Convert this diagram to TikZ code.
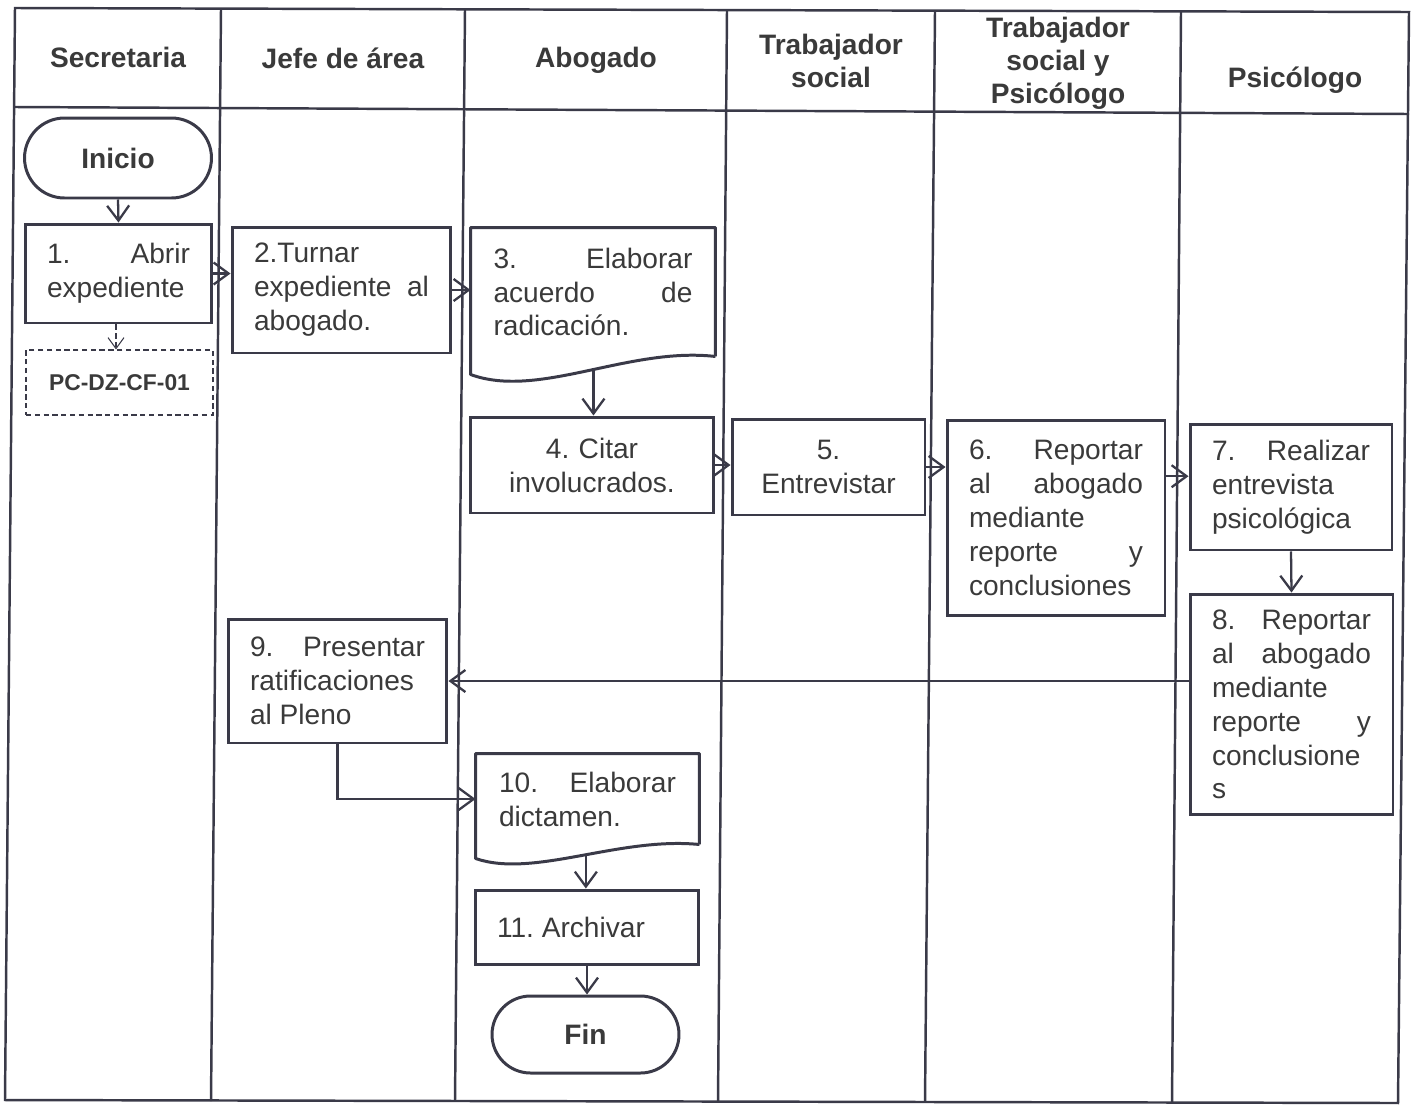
\documentclass[tikz,border=0pt]{standalone}
\usepackage{fontspec}
\setmainfont{Liberation Sans}
\usetikzlibrary{arrows.meta,calc}

\definecolor{ink}{HTML}{3A3A48}
\definecolor{txt}{HTML}{3A3A3A}

\begin{document}
\frenchspacing
\begin{tikzpicture}[x=0.02cm,y=-0.02cm,
  frame/.style={draw=ink, line width=1.4pt},
  box/.style={draw=ink, line width=1.7pt, inner sep=1pt, text=txt,
    font=\frenchspacing\fontsize{16}{19.3}\selectfont},
  jbox/.style={box, align=justify},
  cbox/.style={box, align=center},
  docbox/.style={box, draw=none, align=justify},
  term/.style={box, font=\bfseries\fontsize{16}{19}\selectfont},
  ref/.style={draw=ink, line width=0.6pt, dash pattern=on 3pt off 2pt,
    inner sep=1pt, text=txt, font=\bfseries\fontsize{13}{15}\selectfont},
  head/.style={text=txt, align=center, font=\bfseries\fontsize{16}{18.8}\selectfont},
  arr/.style={draw=ink, line width=1.3pt,
    -{Straight Barb[length=0.3cm,width=0.44cm,line width=1.3pt]}},
  darr/.style={draw=ink, line width=0.6pt, dash pattern=on 3pt off 2pt,
    -{Straight Barb[length=0.22cm,width=0.32cm,line width=0.6pt]}},
]
\useasboundingbox (0,0) rectangle (1416,1106);

% swimlane table
\draw[frame] (15,8) -- (1409,12) -- (1398,1103) -- (5,1100) -- cycle;
\draw[frame] (15,107) -- (1409,114);
\draw[frame] (221,9) -- (211,1101);
\draw[frame] (465,9) -- (455,1101);
\draw[frame] (727,10) -- (718,1102);
\draw[frame] (935,11) -- (925,1102);
\draw[frame] (1181,12) -- (1172,1103);

% lane headings
\node[head] (hsec) at (118,57) {Secretaria};
\node[head] (hjef) at (343,58) {Jefe de área};
\node[head] (habo) at (596,60) {Abogado};
\node[head] (hts)  at (831,61) {Trabajador\\social};
\node[head] (htsp) at (1058,63) {Trabajador\\social y\\Psicólogo};
\node[head] (hpsi) at (1295,80) {Psicólogo};

% terminals
\node[term, rounded corners=0.8cm, minimum width=3.74cm, minimum height=1.6cm]
  (ini) at (118,158) {Inicio};
\node[term, rounded corners=0.77cm, minimum width=3.74cm, minimum height=1.54cm]
  (fin) at (585.5,1034.5) {Fin};

% activities
\node[jbox, minimum width=3.74cm, minimum height=1.98cm, text width=2.86cm]
  (n1) at (118.5,273.5) {1.\hfill Abrir\\expediente};
\node[ref, minimum width=3.74cm, minimum height=1.3cm]
  (pc) at (119.5,382.5) {PC-DZ-CF-01};
\node[jbox, minimum width=4.38cm, minimum height=2.52cm, text width=3.5cm]
  (n2) at (341.5,290) {2.Turnar\\expediente\hfill al\\abogado.};
\node[docbox, minimum width=4.84cm, minimum height=2.52cm, text width=3.98cm]
  (n3) at (593,292) {3.\hfill Elaborar\\acuerdo\hfill de\\radicación.};
\node[cbox, minimum width=4.88cm, minimum height=1.92cm, text width=4.4cm]
  (n4) at (592,465) {4. Citar\\involucrados.};
\node[cbox, minimum width=3.86cm, minimum height=1.92cm, text width=3.4cm]
  (n5) at (828.5,467) {5.\\Entrevistar};
\node[jbox, minimum width=4.36cm, minimum height=3.92cm, text width=3.48cm]
  (n6) at (1056,518) {6.\hfill Reportar\\al\hfill abogado\\mediante\\reporte\hfill y\\conclusiones};
\node[jbox, minimum width=4.04cm, minimum height=2.52cm, text width=3.16cm]
  (n7) at (1291,487) {7.\hfill Realizar\\entrevista\\psicológica};
\node[jbox, minimum width=4.06cm, minimum height=4.42cm, text width=3.18cm]
  (n8) at (1291.5,704.5) {8.\hfill Reportar\\al\hfill abogado\\mediante\\reporte\hfill y\\conclusione\\s};
\node[jbox, minimum width=4.38cm, minimum height=2.48cm, text width=3.5cm]
  (n9) at (337.5,681) {9.\hfill Presentar\\ratificaciones\\al Pleno};
\node[docbox, minimum width=4.42cm, minimum height=1.76cm, text width=3.54cm]
  (n10) at (587.5,799) {10.\hfill Elaborar\\dictamen.};
\node[jbox, minimum width=4.48cm, minimum height=1.48cm, text width=3.6cm]
  (n11) at (587,927) {11. Archivar};

% document outlines with wavy lower edge
\draw[draw=ink, line width=1.7pt, line join=round]
  (n3.south east) -- (n3.north east) -- (n3.north west) -- ($(n3.south west)+(0,18)$)
  .. controls ($(n3.south west)+(68,43)$) and ($(n3.south west)+(158,-10)$) .. (n3.south east)
  coordinate[pos=0.53] (w3);
\draw[draw=ink, line width=1.7pt, line join=round]
  (n10.south east) -- (n10.north east) -- (n10.north west) -- ($(n10.south west)+(0,14)$)
  .. controls ($(n10.south west)+(58,34)$) and ($(n10.south west)+(143,-8)$) .. (n10.south east)
  coordinate[pos=0.53] (w10);

% flow
\draw[arr] (ini.south) -- (n1.north);
\draw[darr] ([xshift=-0.05cm]n1.south) -- ([xshift=-0.05cm]n1.south |- pc.north);
\draw[arr] (n1.east) -- (n1.east -| n2.west);
\draw[arr] (n2.east) -- (n2.east -| n3.west);
\draw[arr] (w3) -- (w3 |- n4.north);
\draw[arr] (n4.east) -- (n4.east -| n5.west);
\draw[arr] (n5.east) -- (n5.east -| n6.west);
\coordinate (o6) at ($(n6.north east)!0.29!(n6.south east)$);
\draw[arr] (o6) -- (o6 -| n7.west);
\draw[arr] (n7.south) -- (n8.north);
\draw[arr] (n8.west |- n9.east) -- (n9.east);
\draw[arr] (n9.south) |- (n10.west);
\draw[arr] (w10) -- (w10 |- n11.north);
\draw[arr] (n11.south) -- (n11.south |- fin.north);
\end{tikzpicture}
\end{document}
